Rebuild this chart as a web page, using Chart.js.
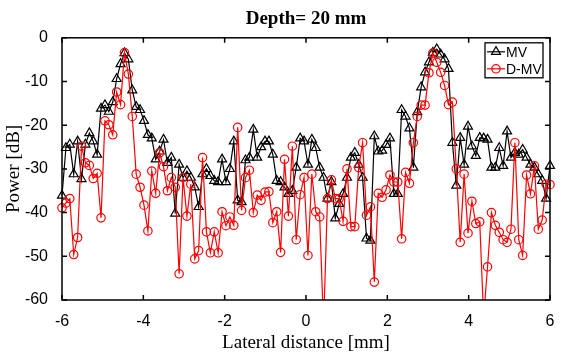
<!DOCTYPE html>
<html>
<head>
<meta charset="utf-8">
<script src="https://cdn.jsdelivr.net/npm/chart.js@4.4.0/dist/chart.umd.min.js"></script>
<style>
  html, body { margin: 0; padding: 0; background: #fff; }
</style>
</head>
<body>
<canvas id="myChart" width="584" height="362"></canvas>
<script>
const titleText = "Depth= 20 mm";
const xTicks = [-6, -4, -2, 0, 2, 4, 6];
const yTicks = [0, -10, -20, -30, -40, -50, -60];

// MV (black triangles), dB, one value per lateral sample
const mvPower = [
  -36.1, -25.2, -24.4, -31.2, -23.7, -32.3, -24.4, -21.8, -23.7, -26.7,
  -16.2, -15.4, -16.9, -14.7, -9.4, -6, -3.5, -4.9, -12, -15.8,
  -16.5, -19, -22.2, -23, -27.8, -26, -23.3, -28.6, -27.4, -40.2,
  -29, -32, -30.5, -32, -34.2, -38.7, -31.2, -30, -31.6, -32.7,
  -33, -27.8, -33, -30, -23.7, -37.2, -37.6, -28, -27.4, -21,
  -27.4, -25, -23.7, -23.7, -26.7, -32.7, -33, -34.2, -35.7, -35,
  -29.7, -23, -23.7, -29, -23.3, -25.2, -29.7, -32, -36.8, -33,
  -41.3, -38, -35.7, -32, -27.4, -26.3, -29, -32, -45.9, -46.4,
  -22.5, -26, -25.8, -24.5, -23, -35.7, -35.7, -16.5, -18, -20.7,
  -29.7, -17, -11.3, -7.9, -5.6, -3.4, -2.6, -3.8, -4.9, -7.1,
  -24, -33.8, -22.9, -29, -20.3, -24.8, -27, -22.9, -23, -23.3,
  -29.7, -29.7, -25.2, -29.3, -21.4, -27.4, -26.3, -26.7, -25.6, -27.4,
  -29, -29.7, -31.2, -32.7, -36.8, -29.3
];

// D-MV (red circles), dB
const dmvPower = [
  -38.9, -37.8, -36.8, -49.6, -45.7, -24.8, -28.6, -29.2, -32.2, -31,
  -41.2, -19, -19.9, -22.2, -12.4, -15.3, -3.4, -8.3, -18, -31.2,
  -34.2, -38.3, -44.2, -30.5, -35.6, -26.3, -29.5, -35, -32, -34.2,
  -54, -32, -40.8, -33.5, -50.6, -48.7, -27.4, -44.4, -49.2, -44.4,
  -49.2, -39.8, -43, -41, -42.9, -20.5, -39.5, -32, -30.3, -40,
  -36, -37.2, -35.3, -35.2, -42.3, -39.8, -49.1, -27.8, -40.8, -24.8,
  -46.2, -35.9, -32, -49.8, -31.2, -39.8, -41, -66, -36.8, -32.5,
  -36.8, -36.8, -42, -30, -43.2, -43.2, -29.7, -24, -40.6, -38.7,
  -55.9, -35.6, -36.5, -34.8, -31.4, -33, -33, -46, -30.8, -33.3,
  -24, -18, -15.4, -15.4, -8, -3.5, -5.6, -7.9, -10.9, -15.3,
  -14.7, -30, -46.8, -31.2, -44.7, -37.4, -42.5, -42.1, -64, -52.4,
  -40, -42.9, -44.5, -46.2, -46.8, -43.8, -24, -46.2, -49.8, -31.4,
  -35.7, -29.3, -43.8, -41.7, -33.5, -33.6
];

// lateral sample positions, evenly spaced from -6 to 6 mm
const lateral = mvPower.map((_, i) => -6 + 12 * i / (mvPower.length - 1));

const toPoints = (vals) => vals.map((v, i) => ({ x: lateral[i], y: v }));

// matlab-like box, inward ticks and legend
const boxPlugin = {
  id: 'matlabBox',
  afterDraw(chart) {
    const ctx = chart.ctx;
    const { left, right, top, bottom } = chart.chartArea;
    const xs = chart.scales.x, ys = chart.scales.y;
    const tl = 5;
    ctx.save();
    ctx.strokeStyle = '#000';
    ctx.lineWidth = 1.5;
    ctx.beginPath();
    xTicks.forEach(v => {
      const px = xs.getPixelForValue(v);
      ctx.moveTo(px, bottom); ctx.lineTo(px, bottom - tl);
      ctx.moveTo(px, top); ctx.lineTo(px, top + tl);
    });
    yTicks.forEach(v => {
      const py = ys.getPixelForValue(v);
      ctx.moveTo(left, py); ctx.lineTo(left + tl, py);
      ctx.moveTo(right, py); ctx.lineTo(right - tl, py);
    });
    ctx.stroke();
    ctx.strokeRect(left, top, right - left, bottom - top);

    // legend
    const lx = right - 65, ly = top + 5, lw = 58, lh = 35;
    ctx.fillStyle = '#fff';
    ctx.fillRect(lx, ly, lw, lh);
    ctx.lineWidth = 1.3;
    ctx.strokeRect(lx, ly, lw, lh);
    const rows = [
      { ds: chart.data.datasets[1], y: ly + 9 },
      { ds: chart.data.datasets[0], y: ly + 26 }
    ];
    ctx.font = '14px "Liberation Sans", Arial, sans-serif';
    ctx.textBaseline = 'middle';
    rows.forEach(r => {
      ctx.strokeStyle = r.ds.borderColor;
      ctx.lineWidth = r.ds.borderWidth;
      ctx.beginPath();
      ctx.moveTo(lx + 2, r.y); ctx.lineTo(lx + 20, r.y);
      ctx.stroke();
      ctx.fillStyle = 'rgba(0,0,0,0)';
      Chart.helpers.drawPoint(ctx, {
        pointStyle: r.ds.pointStyle, radius: r.ds.pointRadius, borderWidth: r.ds.pointBorderWidth, rotation: 0
      }, lx + 11, r.y);
      ctx.fillStyle = '#000';
      ctx.textAlign = 'left';
      ctx.fillText(r.ds.label, lx + 21, r.y + 1);
    });
    ctx.restore();
  }
};

const tickFont = { family: '"Liberation Sans", Arial, sans-serif', size: 16 };
const labelFont = { family: '"Liberation Serif", "Times New Roman", serif', size: 19 };

new Chart(document.getElementById('myChart'), {
  type: 'line',
  data: {
    datasets: [
      {
        label: 'D-MV',
        data: toPoints(dmvPower),
        borderColor: 'rgb(255,0,0)',
        backgroundColor: 'rgba(0,0,0,0)',
        borderWidth: 1.2,
        pointStyle: 'circle',
        pointRadius: 4.2,
        pointBorderWidth: 1.2,
        pointBorderColor: 'rgb(255,0,0)',
        pointBackgroundColor: 'rgba(0,0,0,0)',
        tension: 0,
        order: 0,
        clip: { left: 8, right: 8, top: 8, bottom: 0 }
      },
      {
        label: 'MV',
        data: toPoints(mvPower),
        borderColor: '#000',
        backgroundColor: 'rgba(0,0,0,0)',
        borderWidth: 1.2,
        pointStyle: 'triangle',
        pointRadius: 5.2,
        pointBorderWidth: 1.2,
        pointBorderColor: '#000',
        pointBackgroundColor: 'rgba(0,0,0,0)',
        tension: 0,
        order: 1,
        clip: { left: 8, right: 8, top: 8, bottom: 0 }
      }
    ]
  },
  options: {
    responsive: false,
    animation: false,
    layout: { padding: { left: 0, right: 34, top: 0, bottom: 0 } },
    plugins: {
      legend: { display: false },
      tooltip: { enabled: false },
      title: {
        display: true,
        text: titleText,
        fullSize: false,
        color: '#000',
        font: { family: '"Liberation Serif", "Times New Roman", serif', size: 19, weight: 'bold' },
        padding: { top: 8, bottom: 7 }
      }
    },
    scales: {
      x: {
        type: 'linear',
        min: -6, max: 6,
        grid: { display: false },
        border: { display: false },
        ticks: { stepSize: 2, color: '#000', font: tickFont, padding: 4, maxRotation: 0, autoSkip: false },
        title: { display: true, text: 'Lateral distance [mm]', color: '#000', font: labelFont, padding: { top: 0, bottom: 8 } },
        afterFit(scale) { scale.height = 62; }
      },
      y: {
        type: 'linear',
        min: -60, max: 0,
        grid: { display: false },
        border: { display: false },
        ticks: { stepSize: 10, color: '#000', font: tickFont, padding: 6 },
        title: { display: true, text: 'Power [dB]', color: '#000', font: labelFont, padding: { top: 3, bottom: 2 } },
        afterFit(scale) { scale.width = 62; }
      }
    }
  },
  plugins: [boxPlugin]
});
</script>
</body>
</html>
